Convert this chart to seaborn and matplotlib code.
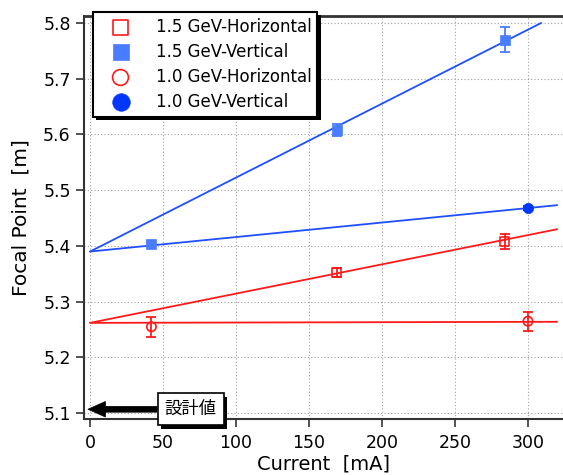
import numpy as np
import seaborn as sns
import matplotlib
matplotlib.use("Agg")
import matplotlib.pyplot as plt
import matplotlib.patheffects as pe

# ---- data ----
series = ["1.5 GeV-Horizontal", "1.5 GeV-Vertical", "1.0 GeV-Horizontal", "1.0 GeV-Vertical"]

h15_x = [169, 284]
h15_y = [5.353, 5.408]
h15_err = [0.008, 0.014]

v15_x = [42, 169, 284]
v15_y = [5.404, 5.608, 5.770]
v15_err = [0.004, 0.010, 0.022]

h10_x = [42, 300]
h10_y = [5.255, 5.265]
h10_err = [0.018, 0.017]

v10_x = [300]
v10_y = [5.468]
v10_err = [0.003]

# fit lines: intercept, slope, last x drawn
fit_b = [5.262, 5.390, 5.262, 5.390]
fit_m = [0.000525, 0.001327, 0.000006, 0.00026]
fit_end = [320, 309, 320, 320]

design_y = 5.107
design_label = "設計値"

xticks = [0, 50, 100, 150, 200, 250, 300]
yticks = [5.1, 5.2, 5.3, 5.4, 5.5, 5.6, 5.7, 5.8]

# ---- style ----
sns.set_style("ticks")
plt.rcParams['font.family'] = ['DejaVu Sans', 'Noto Sans CJK JP']
plt.rcParams['text.color'] = 'black'
plt.rcParams['axes.labelcolor'] = 'black'
plt.rcParams['xtick.color'] = 'black'
plt.rcParams['ytick.color'] = 'black'

red = "#ff1a1a"
blue_line = "#1f4fff"
blue_sq = "#4a7cff"
blue_dot = "#0037ff"

fig = plt.figure(figsize=(5.63, 4.75), dpi=100)
ax = fig.add_axes([84/563, 56/475, 1 - 84/563, (419-16)/475])

# fitted lines
colors_line = [red, blue_line, red, blue_line]
for b, m, end, c in zip(fit_b, fit_m, fit_end, colors_line):
    fx = np.array([0, end])
    sns.lineplot(x=fx, y=b + m*fx, color=c, lw=1.3, ax=ax, legend=False, zorder=3)

# error bars
ax.errorbar(h15_x, h15_y, yerr=h15_err, fmt="none", ecolor=red, elinewidth=1.3, capsize=3.5, capthick=1.3, zorder=4)
ax.errorbar(v15_x, v15_y, yerr=v15_err, fmt="none", ecolor=blue_sq, elinewidth=1.3, capsize=3.5, capthick=1.3, zorder=4)
ax.errorbar(h10_x, h10_y, yerr=h10_err, fmt="none", ecolor=red, elinewidth=1.3, capsize=3.5, capthick=1.3, zorder=4)
ax.errorbar(v10_x, v10_y, yerr=v10_err, fmt="none", ecolor=blue_dot, elinewidth=1.3, capsize=3.5, capthick=1.3, zorder=4)

# markers
sns.scatterplot(x=h15_x, y=h15_y, marker="s", s=40, facecolors="none", edgecolor=red, linewidth=1.2, label=series[0], ax=ax, zorder=5)
sns.scatterplot(x=v15_x, y=v15_y, marker="s", s=45, color=blue_sq, edgecolor=blue_sq, linewidth=0.5, label=series[1], ax=ax, zorder=5)
sns.scatterplot(x=h10_x, y=h10_y, marker="o", s=45, facecolors="none", edgecolor=red, linewidth=1.2, label=series[2], ax=ax, zorder=5)
sns.scatterplot(x=v10_x, y=v10_y, marker="o", s=55, color=blue_dot, edgecolor=blue_dot, linewidth=0.5, label=series[3], ax=ax, zorder=5)

ax.set_xlim(-4.2, 324)
ax.set_ylim(5.0895, 5.8126)
ax.set_xticks(xticks)
ax.set_yticks(yticks)
ax.set_yticklabels([f"{v:.1f}" for v in yticks])
ax.grid(True, color="#a0a0a0", linestyle=(0, (1, 2)), linewidth=0.8)
ax.set_axisbelow(True)

for s in ["left", "bottom", "top"]:
    ax.spines[s].set_linewidth(1.5)
    ax.spines[s].set_color("#333333")
ax.spines["top"].set_linewidth(2)
ax.spines["right"].set_visible(False)
ax.tick_params(direction="out", length=5.5, width=1.2, color="#333333", labelsize=12.5, pad=4)
ax.tick_params(axis="x", pad=5)

ax.set_xlabel("Current  [mA]", fontsize=14, labelpad=2)
ax.set_ylabel("Focal Point  [m]", fontsize=14.5, labelpad=9)

# legend
leg = ax.legend(loc="upper left", bbox_to_anchor=(93/563, 1 - 12/475), bbox_transform=fig.transFigure,
                borderaxespad=0, fontsize=12, markerscale=1.7, frameon=True, fancybox=False,
                borderpad=0.35, handlelength=2.6, handletextpad=0.8, labelspacing=0.42)
frame = leg.get_frame()
frame.set_edgecolor("black")
frame.set_linewidth(1.5)
frame.set_alpha(1)
frame.set_path_effects([pe.SimplePatchShadow(offset=(2.5, -2.5), shadow_rgbFace="black", alpha=1), pe.Normal()])
leg.set_zorder(10)

# design value arrow
ann = ax.annotate(design_label, xy=(-1.5, design_y), xytext=(51, design_y),
                  ha="left", va="center", fontsize=12.5, zorder=12, annotation_clip=False,
                  bbox=dict(boxstyle="square,pad=0.4", fc="white", ec="black", lw=1.2),
                  arrowprops=dict(arrowstyle="simple,head_width=0.8,head_length=0.9,tail_width=0.3",
                                  mutation_scale=14, fc="black", ec="black", lw=0.5, shrinkA=0, shrinkB=0))
ann.get_bbox_patch().set_path_effects([pe.SimplePatchShadow(offset=(2.5, -2.5), shadow_rgbFace="black", alpha=1), pe.Normal()])

fig.savefig("out.png", dpi=100)
